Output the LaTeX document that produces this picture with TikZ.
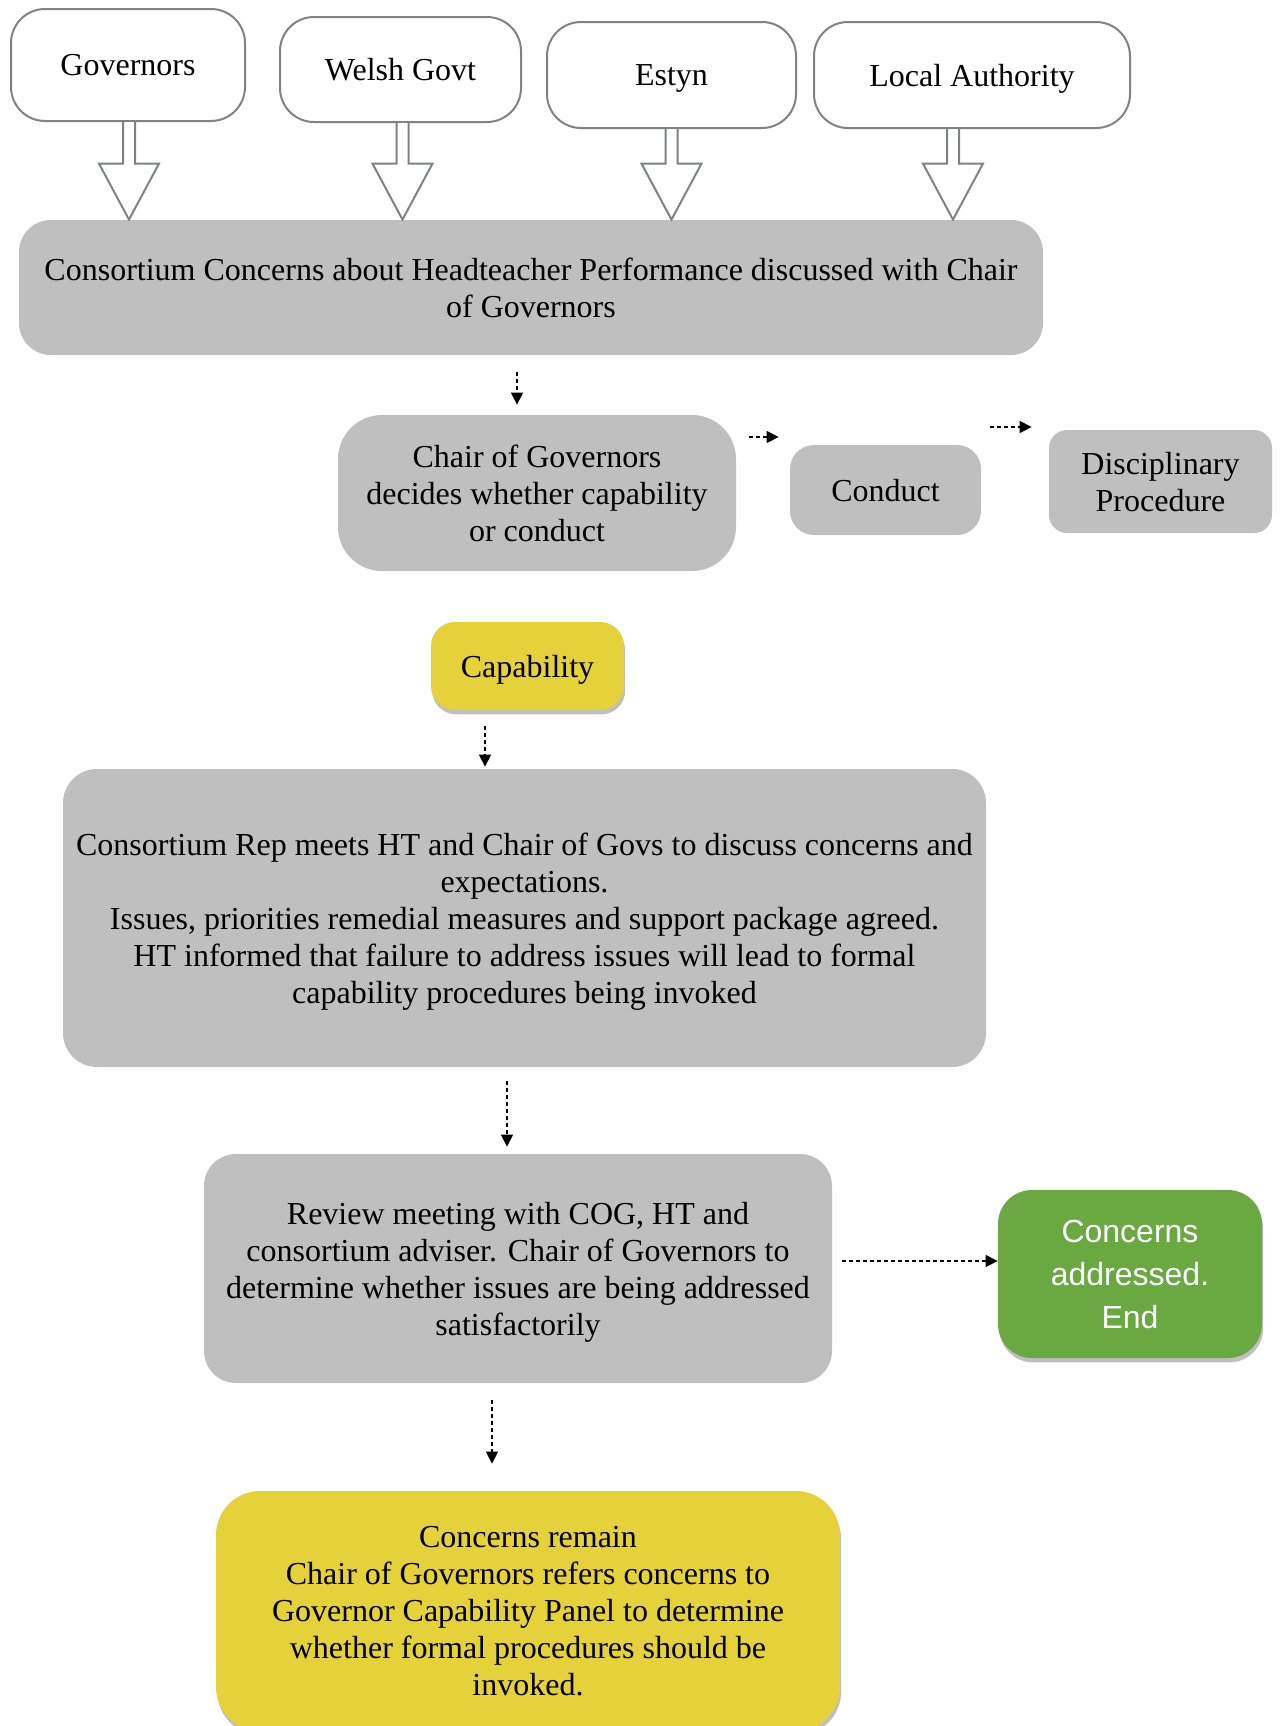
\documentclass[tikz,border=0pt]{standalone}
\usepackage{fontspec}
\setmainfont{Liberation Serif}
\setsansfont{Liberation Sans}
\usepackage{tikz}
\usetikzlibrary{arrows.meta,positioning,calc,shadows}
\definecolor{boxgrey}{RGB}{191,191,191}
\definecolor{edgegrey}{RGB}{128,130,134}
\definecolor{capyellow}{RGB}{229,209,58}
\definecolor{endgreen}{RGB}{106,168,66}

\begin{document}
\begin{tikzpicture}[
    x=0.5pt, y=-0.5pt,
    font=\fontsize{16}{18.5}\selectfont,
    srcbox/.style={rectangle, draw=edgegrey, line width=1pt, fill=white, rounded corners=17pt, minimum height=53pt, align=center, inner sep=0pt, text depth=-2pt},
    greybox/.style={rectangle, fill=boxgrey, align=center, inner sep=0pt, text depth=-2pt},
    yellowbox/.style={rectangle, fill=capyellow, align=center, inner sep=0pt, text depth=-2pt, drop shadow={shadow xshift=0.6pt, shadow yshift=-2.2pt, opacity=0.5}},
    greenbox/.style={yellowbox, fill=endgreen, text=white, text depth=-6pt, font=\sffamily\fontsize{16}{21.5}\selectfont},
    hollow/.style={draw=edgegrey, line width=1pt, fill=white, line join=miter},
    flow/.style={-{Triangle[length=6pt, width=6pt]}, line width=0.7pt, dash pattern=on 2pt off 1.5pt}
]
    \useasboundingbox (0,0) rectangle (1281,1726);

    \node[srcbox, minimum width=117pt, minimum height=56pt, text depth=-5pt] (gov) at (128,65) {Governors};
    \node[srcbox, minimum width=120.5pt, minimum height=52.5pt] (welsh) at (400.5,69.5) {Welsh Govt};
    \node[srcbox, minimum width=124.5pt] (estyn) at (671.5,75) {Estyn};
    \node[srcbox, minimum width=158pt] (la) at (972,75) {Local Authority};

    \node[greybox, minimum width=512pt, minimum height=67.5pt, rounded corners=16pt, text depth=-4pt] (main) at (531,287.5) {Consortium Concerns about Headteacher Performance discussed with Chair\\of Governors};

    \foreach \src/\dx in {gov/1,welsh/2,estyn/0,la/-19}
        \draw[hollow] ($(\src.south)+(\dx-6,0)$) -- ($(\src.south |- main.north)+(\dx-6,-56)$) -- ($(\src.south |- main.north)+(\dx-30,-56)$) -- ($(\src.south |- main.north)+(\dx,0)$) -- ($(\src.south |- main.north)+(\dx+30,-56)$) -- ($(\src.south |- main.north)+(\dx+6,-56)$) -- ($(\src.south)+(\dx+6,0)$);

    \node[greybox, minimum width=199pt, minimum height=78pt, rounded corners=22pt, text depth=-4pt] (chair) at (537,493) {Chair of Governors\\decides whether capability\\or conduct};
    \node[greybox, minimum width=95.5pt, minimum height=45pt, rounded corners=12pt] (conduct) at (885.5,490) {Conduct};
    \node[greybox, minimum width=111.5pt, minimum height=51.5pt, rounded corners=9pt] (disc) at (1160.5,481.5) {Disciplinary\\Procedure};
    \node[yellowbox, minimum width=96.5pt, minimum height=44pt, rounded corners=12pt] (cap) at (527.5,666) {Capability};
    \node[greybox, minimum width=461.5pt, minimum height=149pt, rounded corners=17pt] (meet) at (524.5,918) {Consortium Rep meets HT and Chair of Govs to discuss concerns and\\expectations.\\Issues, priorities remedial measures and support package agreed.\\HT informed that failure to address issues will lead to formal\\capability procedures being invoked};
    \node[greybox, minimum width=314pt, minimum height=114.5pt, rounded corners=16pt] (review) at (518,1268.5) {Review meeting with COG, HT and\\consortium adviser. Chair of Governors to\\determine whether issues are being addressed\\satisfactorily};
    \node[greenbox, minimum width=132pt, minimum height=84pt, rounded corners=17pt] (done) at (1130,1274) {Concerns\\addressed.\\End};
    \node[yellowbox, minimum width=312pt, minimum height=120pt, rounded corners=22pt, text depth=-4pt] (remain) at (528,1611) {Concerns remain\\Chair of Governors refers concerns to\\Governor Capability Panel to determine\\whether formal procedures should be\\invoked.};

    \draw[flow] ($(main.south)+(-14,17)$) -- ($(chair.north)+(-20,-10)$);
    \draw[flow] ($(chair.east)+(13,-56)$) -- ($(conduct.west)+(-11,-53)$);
    \draw[flow] ($(conduct.east)+(9,-63)$) -- ($(disc.west)+(-17,-54.5)$);
    \draw[flow] ($(cap.south)+(-42.5,16)$) -- ($(meet.north)+(-39.5,-2)$);
    \draw[flow] ($(meet.south)+(-17.5,14)$) -- ($(review.north)+(-11,-7)$);
    \draw[flow] ($(review.east)+(10,-7.5)$) -- ($(done.west)+(0,-13)$);
    \draw[flow] ($(review.south)+(-26,17)$) -- ($(remain.north)+(-36,-27)$);
\end{tikzpicture}
\end{document}
